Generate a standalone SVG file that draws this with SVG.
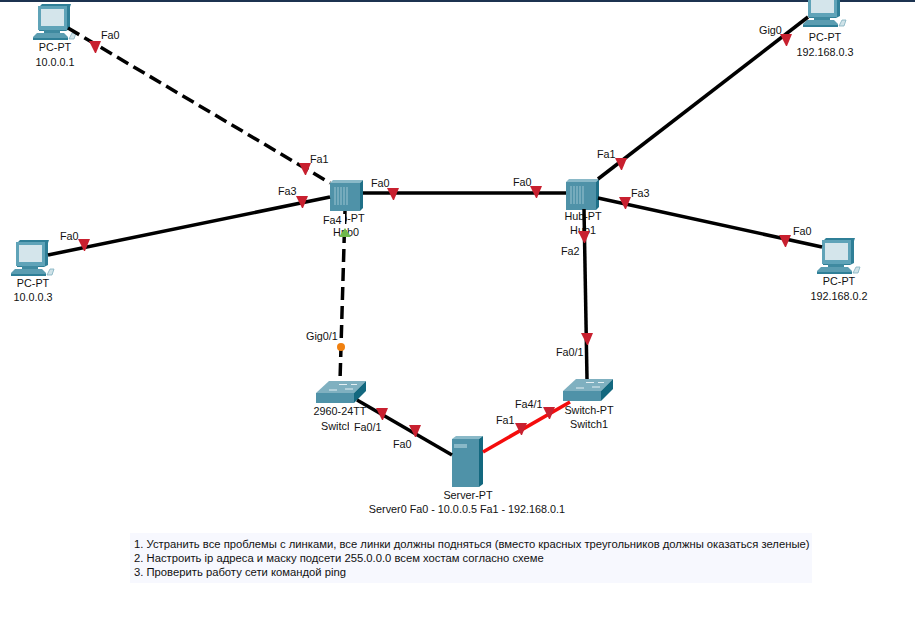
<svg xmlns="http://www.w3.org/2000/svg" width="915" height="617" viewBox="0 0 915 617">
<style>
text{font-family:"Liberation Sans",Arial,sans-serif;font-size:10.800px;fill:#111}
.c{text-anchor:middle}
.i{font-size:11.250px}
.l{stroke:#000;stroke-width:3.500;fill:none}
.d{stroke-dasharray:13 6}
.r{stroke:#f40c0c}
.t{fill:#c8202f}
</style>
<defs>
<g id="pc">
<polygon points="6,3 9,0 38,0 37,3 37,25 33,27 6,27" fill="#2f7f97"/>
<rect x="5" y="2" width="29" height="24" fill="#5fa3b8"/>
<rect x="8" y="5" width="23" height="17" fill="#d4e5eb"/>
<rect x="11" y="26" width="16" height="4" fill="#3f8aa0"/>
<polygon points="4,29 31,29 35,33 35,36 0,36 0,33" fill="#5b9db1"/>
<rect x="0" y="34" width="35" height="2" fill="#2f7f97"/>
<path d="M36,35 L39,29 L43,29 L41,35 Z" fill="#cfe2e8" stroke="#7fb0bf" stroke-width="0.800"/>
</g>
<g id="hub">
<polygon points="0,3 3,0 33,0 30,3" fill="#8ab9c8"/>
<polygon points="30,3 33,0 33,28 30,31" fill="#1f7088"/>
<rect x="0" y="3" width="30" height="28" fill="#4f92a8"/>
<path d="M5,7V25M8,7V25M11,7V25M14,7V25M17,7V25" stroke="#9cc4d1" stroke-width="1"/>
</g>
<g id="sw">
<polygon points="0,12 13,0 50,0 38,12" fill="#7fb0c0"/>
<polygon points="38,12 50,0 50,10 38,22" fill="#13687f"/>
<rect x="0" y="12" width="38" height="10" fill="#4f92a8"/>
<path d="M13,9h8M23,3.500h8M29,8h8M35,3.500h6" stroke="#e4eff3" stroke-width="1"/>
</g>
<polygon id="tri" class="t" points="-6,-6 6,-6 1,6 0,6"/>
</defs>
<rect width="915" height="617" fill="#fff"/>
<rect width="915" height="2" fill="#1c3350"/>

<g id="pc0"><use href="#pc" x="33" y="4"/><text class="c" x="55" y="51">PC-PT</text><text class="c" x="55" y="66">10.0.0.1</text></g>
<g id="pc3"><use href="#pc" x="11" y="240"/><text class="c" x="33" y="287">PC-PT</text><text class="c" x="33" y="301">10.0.0.3</text></g>
<g id="pc-top"><use href="#pc" x="803" y="-9"/><text class="c" x="825" y="41">PC-PT</text><text class="c" x="825" y="56">192.168.0.3</text></g>
<g id="pc2"><use href="#pc" x="817" y="238"/><text class="c" x="839" y="285">PC-PT</text><text class="c" x="839" y="300">192.168.0.2</text></g>
<g id="hub0"><use href="#hub" x="330" y="180"/><text class="c" x="346" y="222">Hub-PT</text><text class="c" x="346" y="236">Hub0</text></g>
<g id="hub1"><use href="#hub" x="566" y="179"/><text class="c" x="583" y="220">Hub-PT</text><text class="c" x="583" y="234">Hub1</text></g>
<g id="switch0"><use href="#sw" x="316" y="381"/><text class="c" x="340" y="415">2960-24TT</text><text class="c" x="340" y="430">Switch0</text></g>
<g id="switch1"><use href="#sw" x="563" y="379"/><text class="c" x="589" y="414">Switch-PT</text><text class="c" x="589" y="428">Switch1</text></g>
<g id="server0">
<polygon points="452,439 456,436 483,436 479,439" fill="#8ab9c8"/>
<polygon points="479,439 483,436 483,484 479,487" fill="#13687f"/>
<rect x="452" y="439" width="27" height="48" fill="#4f92a8"/>
<rect x="454" y="444" width="13" height="4" fill="#8ab9c8"/>
<text class="c" x="468" y="499">Server-PT</text><text class="c" x="467" y="513">Server0 Fa0 - 10.0.0.5 Fa1 - 192.168.0.1</text>
</g>

<g id="connectors">
<line class="l d" x1="68" y1="28" x2="330" y2="183"/>
<line class="l" x1="48" y1="255" x2="330" y2="197"/>
<line class="l" x1="363" y1="193" x2="566" y2="193"/>
<line class="l" x1="598" y1="179" x2="808" y2="17"/>
<line class="l" x1="598" y1="198" x2="822" y2="247"/>
<line class="l" x1="584" y1="209" x2="587" y2="379"/>
<line class="l d" x1="345" y1="211" x2="340" y2="381"/>
<line class="l" x1="357" y1="400" x2="452" y2="455"/>
<line class="l r" x1="483" y1="452" x2="570" y2="402"/>
<use href="#tri" x="95" y="47"/>
<use href="#tri" x="305" y="169"/>
<use href="#tri" x="302" y="202"/>
<use href="#tri" x="84" y="245"/>
<use href="#tri" x="393" y="194"/>
<use href="#tri" x="536" y="192"/>
<use href="#tri" x="621" y="164"/>
<use href="#tri" x="786" y="40"/>
<use href="#tri" x="625" y="203"/>
<use href="#tri" x="785" y="241"/>
<use href="#tri" x="584" y="237"/>
<use href="#tri" x="587" y="339"/>
<use href="#tri" x="382" y="414"/>
<use href="#tri" x="415" y="431"/>
<use href="#tri" x="521" y="429"/>
<use href="#tri" x="549" y="413"/>
<polygon points="339,237 351,237 345,228" fill="#6fb84a"/>
<circle cx="341" cy="347" r="4" fill="#f08010"/>
<rect x="322" y="214" width="23" height="12" fill="#fff"/>
<rect x="349" y="420" width="34" height="13" fill="#fff"/>
<text x="101" y="39">Fa0</text>
<text x="310" y="163">Fa1</text>
<text x="278" y="195">Fa3</text>
<text x="60" y="240">Fa0</text>
<text x="323" y="224">Fa4</text>
<text x="371" y="187">Fa0</text>
<text x="513" y="186">Fa0</text>
<text x="597" y="158">Fa1</text>
<text x="759" y="34">Gig0</text>
<text x="631" y="197">Fa3</text>
<text x="793" y="235">Fa0</text>
<text x="561" y="255">Fa2</text>
<text x="556" y="356">Fa0/1</text>
<text x="306" y="340">Gig0/1</text>
<text x="354" y="431">Fa0/1</text>
<text x="393" y="448">Fa0</text>
<text x="496" y="424">Fa1</text>
<text x="515" y="408">Fa4/1</text>
</g>

<g id="instructions">
<rect x="130" y="533" width="682" height="50" fill="#f7f8fe"/>
<text class="i" x="134" y="548">1. Устранить все проблемы с линками, все линки должны подняться (вместо красных треугольников должны оказаться зеленые)</text>
<text class="i" x="134" y="562">2. Настроить ip адреса и маску подсети 255.0.0.0 всем хостам согласно схеме</text>
<text class="i" x="134" y="576">3. Проверить работу сети командой ping</text>
</g>
</svg>
